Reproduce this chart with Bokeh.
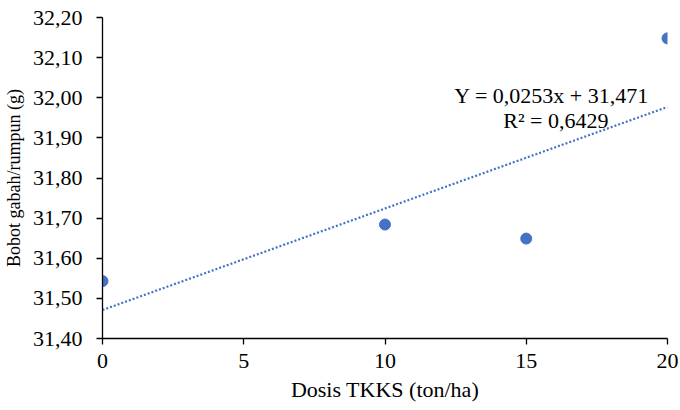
import numpy as np
from bokeh.plotting import figure
from bokeh.models import Range1d, FixedTicker, Label, ColumnDataSource
from bokeh.embed import file_html
from bokeh.resources import INLINE

# Data
dosis = [0, 10, 15, 20]
bobot = [31.543, 31.684, 31.649, 32.148]
slope = 0.0253
intercept = 31.471
eq_text = "Y = 0,0253x + 31,471"
r2_text = "R\u00b2 = 0,6429"
x_ticks = [0, 5, 10, 15, 20]
y_ticks = [31.40, 31.50, 31.60, 31.70, 31.80, 31.90, 32.00, 32.10, 32.20]
y_tick_labels = ["31,40", "31,50", "31,60", "31,70", "31,80", "31,90", "32,00", "32,10", "32,20"]
x_label = "Dosis TKKS (ton/ha)"
y_label = "Bobot gabah/rumpun (g)"

FONT = "Liberation Serif"

p = figure(width=680, height=410, output_backend="svg", toolbar_location=None,
           x_range=Range1d(0, 20), y_range=Range1d(31.40, 32.20),
           min_border_left=100, min_border_right=13, min_border_top=17, min_border_bottom=72)
p.outline_line_color = None
p.grid.visible = False
p.background_fill_color = "white"
p.border_fill_color = "white"

# trend line
tx = np.array([min(dosis), max(dosis)], dtype=float)
ty = slope * tx + intercept
p.line(tx, ty, line_color="#4472C4", line_width=2.2, line_dash="2 2")

# points
src = ColumnDataSource(dict(x=dosis, y=bobot))
p.scatter("x", "y", source=src, size=11, fill_color="#4472C4", line_color="#4472C4")

# axes
xa = p.xaxis[0]
ya = p.yaxis[0]
xa.ticker = FixedTicker(ticks=x_ticks)
ya.ticker = FixedTicker(ticks=y_ticks)
ya.major_label_overrides = {t: l for t, l in zip(y_ticks, y_tick_labels)}
for ax in (xa, ya):
    ax.axis_line_color = "black"
    ax.axis_line_width = 1.3
    ax.major_tick_line_color = "black"
    ax.major_tick_line_width = 1.3
    ax.major_tick_out = 6
    ax.major_tick_in = 0
    ax.minor_tick_out = 0
    ax.minor_tick_in = 0
    ax.major_label_text_font = FONT
    ax.major_label_text_font_size = "22px"
    ax.major_label_text_color = "black"
    ax.axis_label_text_font = FONT
    ax.axis_label_text_font_style = "normal"
    ax.axis_label_text_color = "black"
xa.axis_label = x_label
ya.axis_label = y_label
xa.axis_label_text_font_size = "22px"
ya.axis_label_text_font_size = "18px"
xa.major_label_standoff = 9
ya.major_label_standoff = 14
xa.axis_label_standoff = 6
ya.axis_label_standoff = 6

# equation labels
p.add_layout(Label(x=15.9, y=32.005, text=eq_text, text_align="center", text_baseline="middle",
                   text_font=FONT, text_font_size="22px", text_color="black"))
p.add_layout(Label(x=16.05, y=31.943, text=r2_text, text_align="center", text_baseline="middle",
                   text_font=FONT, text_font_size="22px", text_color="black"))

open("out.html", "w").write(file_html(p, INLINE))
